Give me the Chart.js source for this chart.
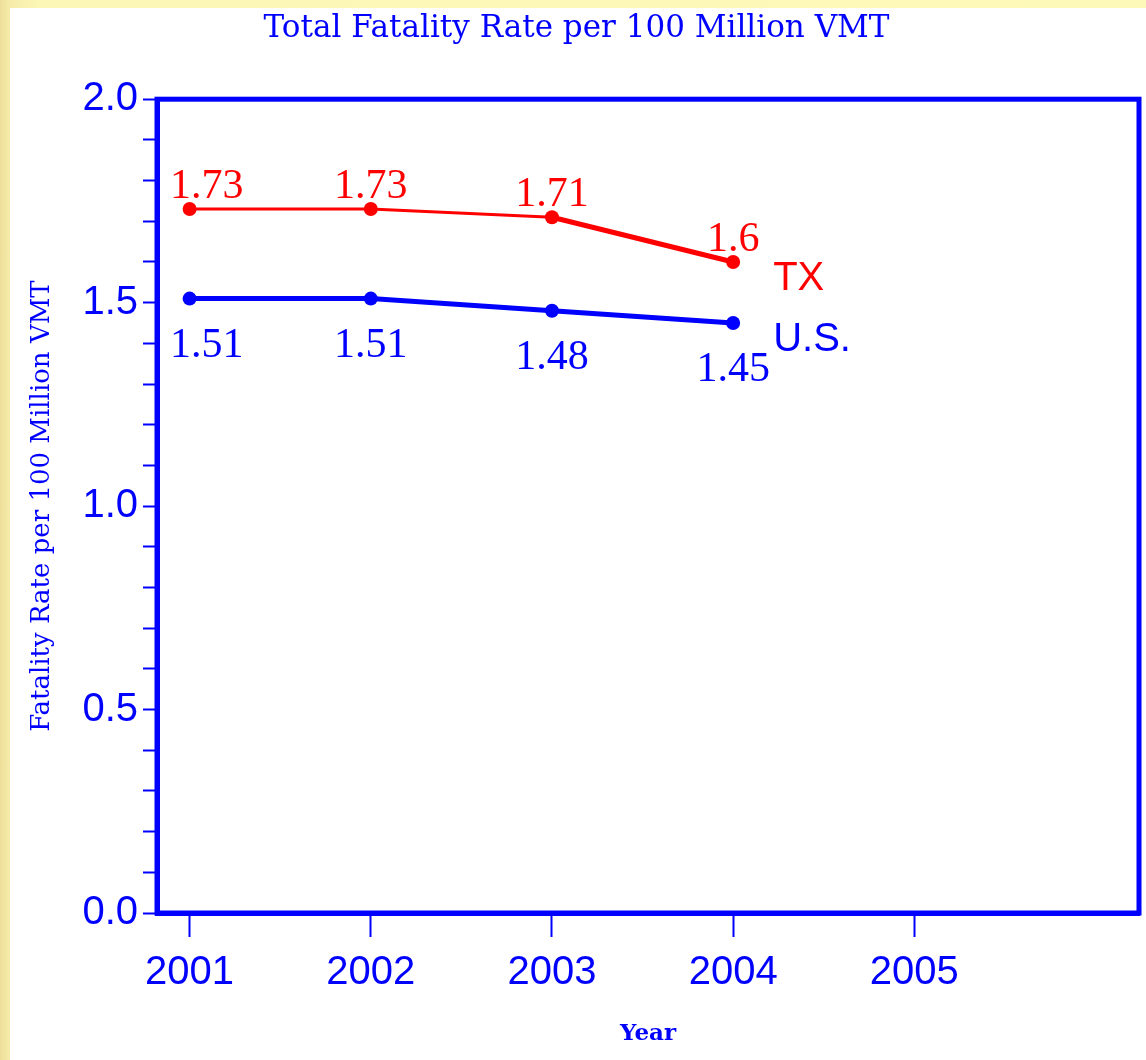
<!DOCTYPE html>
<html>
<head>
<meta charset="utf-8">
<title>Total Fatality Rate per 100 Million VMT</title>
<script src="https://cdn.jsdelivr.net/npm/chart.js@4.4.1/dist/chart.umd.min.js"></script>
<style>
  html, body { margin: 0; padding: 0; }
  body {
    width: 1146px;
    height: 1060px;
    overflow: hidden;
    background: linear-gradient(to right, #eedd9a 0px, #f6ecaa 10px, #fcf7b6 40px, #fdf9b8 100%);
  }
  #wrap {
    position: absolute;
    left: 10px;
    top: 8px;
    width: 1136px;
    height: 1052px;
    background: #fff;
  }
</style>
</head>
<body>
<div id="wrap"><canvas id="rateChart" width="1136" height="1052"></canvas></div>
<script>
const years = [2001, 2002, 2003, 2004];
const txRates = [1.73, 1.73, 1.71, 1.6];
const usRates = [1.51, 1.51, 1.48, 1.45];
const yearTicks = [2001, 2002, 2003, 2004, 2005];
const seriesNames = ["TX", "U.S."];

const BLUE = "#0000ff";
const RED = "#ff0000";

// value labels next to every point + series name at the end of the line
const pointLabels = {
  id: "pointLabels",
  afterDatasetsDraw(chart) {
    const ctx = chart.ctx;
    const area = chart.chartArea;
    chart.data.datasets.forEach((ds, di) => {
      const meta = chart.getDatasetMeta(di);
      const above = ds.labelSide === "above";
      ctx.save();
      ctx.fillStyle = ds.borderColor;
      ctx.textBaseline = "alphabetic";
      ctx.textAlign = "left";
      ctx.font = '42px "Liberation Serif", "Times New Roman", serif';
      meta.data.forEach((pt, i) => {
        const text = String(ds.data[i].y);
        const w = ctx.measureText(text).width;
        const x = Math.max(pt.x - w / 2, area.left + 13);
        ctx.fillText(text, x, above ? pt.y - 11 : pt.y + 58);
      });
      const last = meta.data[meta.data.length - 1];
      ctx.font = '40px "Liberation Sans", Arial, sans-serif';
      ctx.fillText(ds.label, last.x + 40, last.y + 28);
      ctx.restore();
    });
  },
};

// box round the plot area
const frame = {
  id: "frame",
  beforeDatasetsDraw(chart) {
    const { left, top, right, bottom } = chart.chartArea;
    const ctx = chart.ctx;
    ctx.save();
    ctx.strokeStyle = BLUE;
    ctx.lineWidth = 5;
    ctx.strokeRect(left, top, right - left, bottom - top);
    ctx.restore();
  },
};

new Chart(document.getElementById("rateChart"), {
  type: "line",
  data: {
    datasets: [
      {
        label: seriesNames[0],
        data: years.map((y, i) => ({ x: y, y: txRates[i] })),
        borderColor: RED,
        backgroundColor: RED,
        borderWidth: 3,
        segment: {
          borderWidth: (c) => (c.p1DataIndex === 3 ? 5 : 3),
        },
        pointRadius: 7,
        pointBackgroundColor: RED,
        pointBorderWidth: 0,
        tension: 0,
        labelSide: "above",
      },
      {
        label: seriesNames[1],
        data: years.map((y, i) => ({ x: y, y: usRates[i] })),
        borderColor: BLUE,
        backgroundColor: BLUE,
        borderWidth: 5,
        pointRadius: 7,
        pointBackgroundColor: BLUE,
        pointBorderWidth: 0,
        tension: 0,
        labelSide: "below",
      },
    ],
  },
  options: {
    responsive: false,
    animation: false,
    layout: { padding: { left: 0, right: 3, top: 0, bottom: 0 } },
    plugins: {
      legend: { display: false },
      tooltip: { enabled: false },
      title: {
        display: true,
        text: "Total Fatality Rate per 100 Million VMT",
        color: BLUE,
        font: { family: '"DejaVu Serif", serif', size: 31, weight: "normal" },
        padding: { top: 2, bottom: 52 },
      },
    },
    scales: {
      x: {
        type: "linear",
        min: 2000.82,
        max: 2006.24,
        afterBuildTicks: (scale) => {
          scale.ticks = yearTicks.map((v) => ({ value: v }));
        },
        afterFit: (scale) => {
          scale.height = 147;
        },
        border: { display: true, color: BLUE, width: 5 },
        grid: {
          drawOnChartArea: false,
          drawTicks: true,
          tickLength: 24,
          tickWidth: 2,
          tickColor: BLUE,
        },
        ticks: {
          color: BLUE,
          padding: 12,
          autoSkip: false,
          maxRotation: 0,
          font: { family: '"Liberation Sans", Arial, sans-serif', size: 40 },
          callback: (v) => String(v),
        },
        title: {
          display: true,
          text: "Year",
          color: BLUE,
          font: { family: '"DejaVu Serif", serif', size: 23, weight: "bold" },
          padding: { top: 0, bottom: 12 },
        },
      },
      y: {
        min: 0,
        max: 2,
        afterFit: (scale) => {
          scale.width = 147;
        },
        border: { display: true, color: BLUE, width: 5 },
        grid: {
          drawOnChartArea: false,
          drawTicks: true,
          tickLength: 14,
          tickWidth: 2,
          tickColor: BLUE,
        },
        ticks: {
          stepSize: 0.1,
          autoSkip: false,
          color: BLUE,
          padding: 5,
          font: { family: '"Liberation Sans", Arial, sans-serif', size: 40 },
          callback: (value) => {
            const t = Math.round(value * 10);
            return t % 5 === 0 ? (t / 10).toFixed(1) : "";
          },
        },
        title: {
          display: true,
          text: "Fatality Rate per 100 Million VMT",
          color: BLUE,
          font: { family: '"DejaVu Serif", serif', size: 26, weight: "normal" },
          padding: { top: 17, bottom: 0 },
        },
      },
    },
  },
  plugins: [frame, pointLabels],
});
</script>
</body>
</html>
